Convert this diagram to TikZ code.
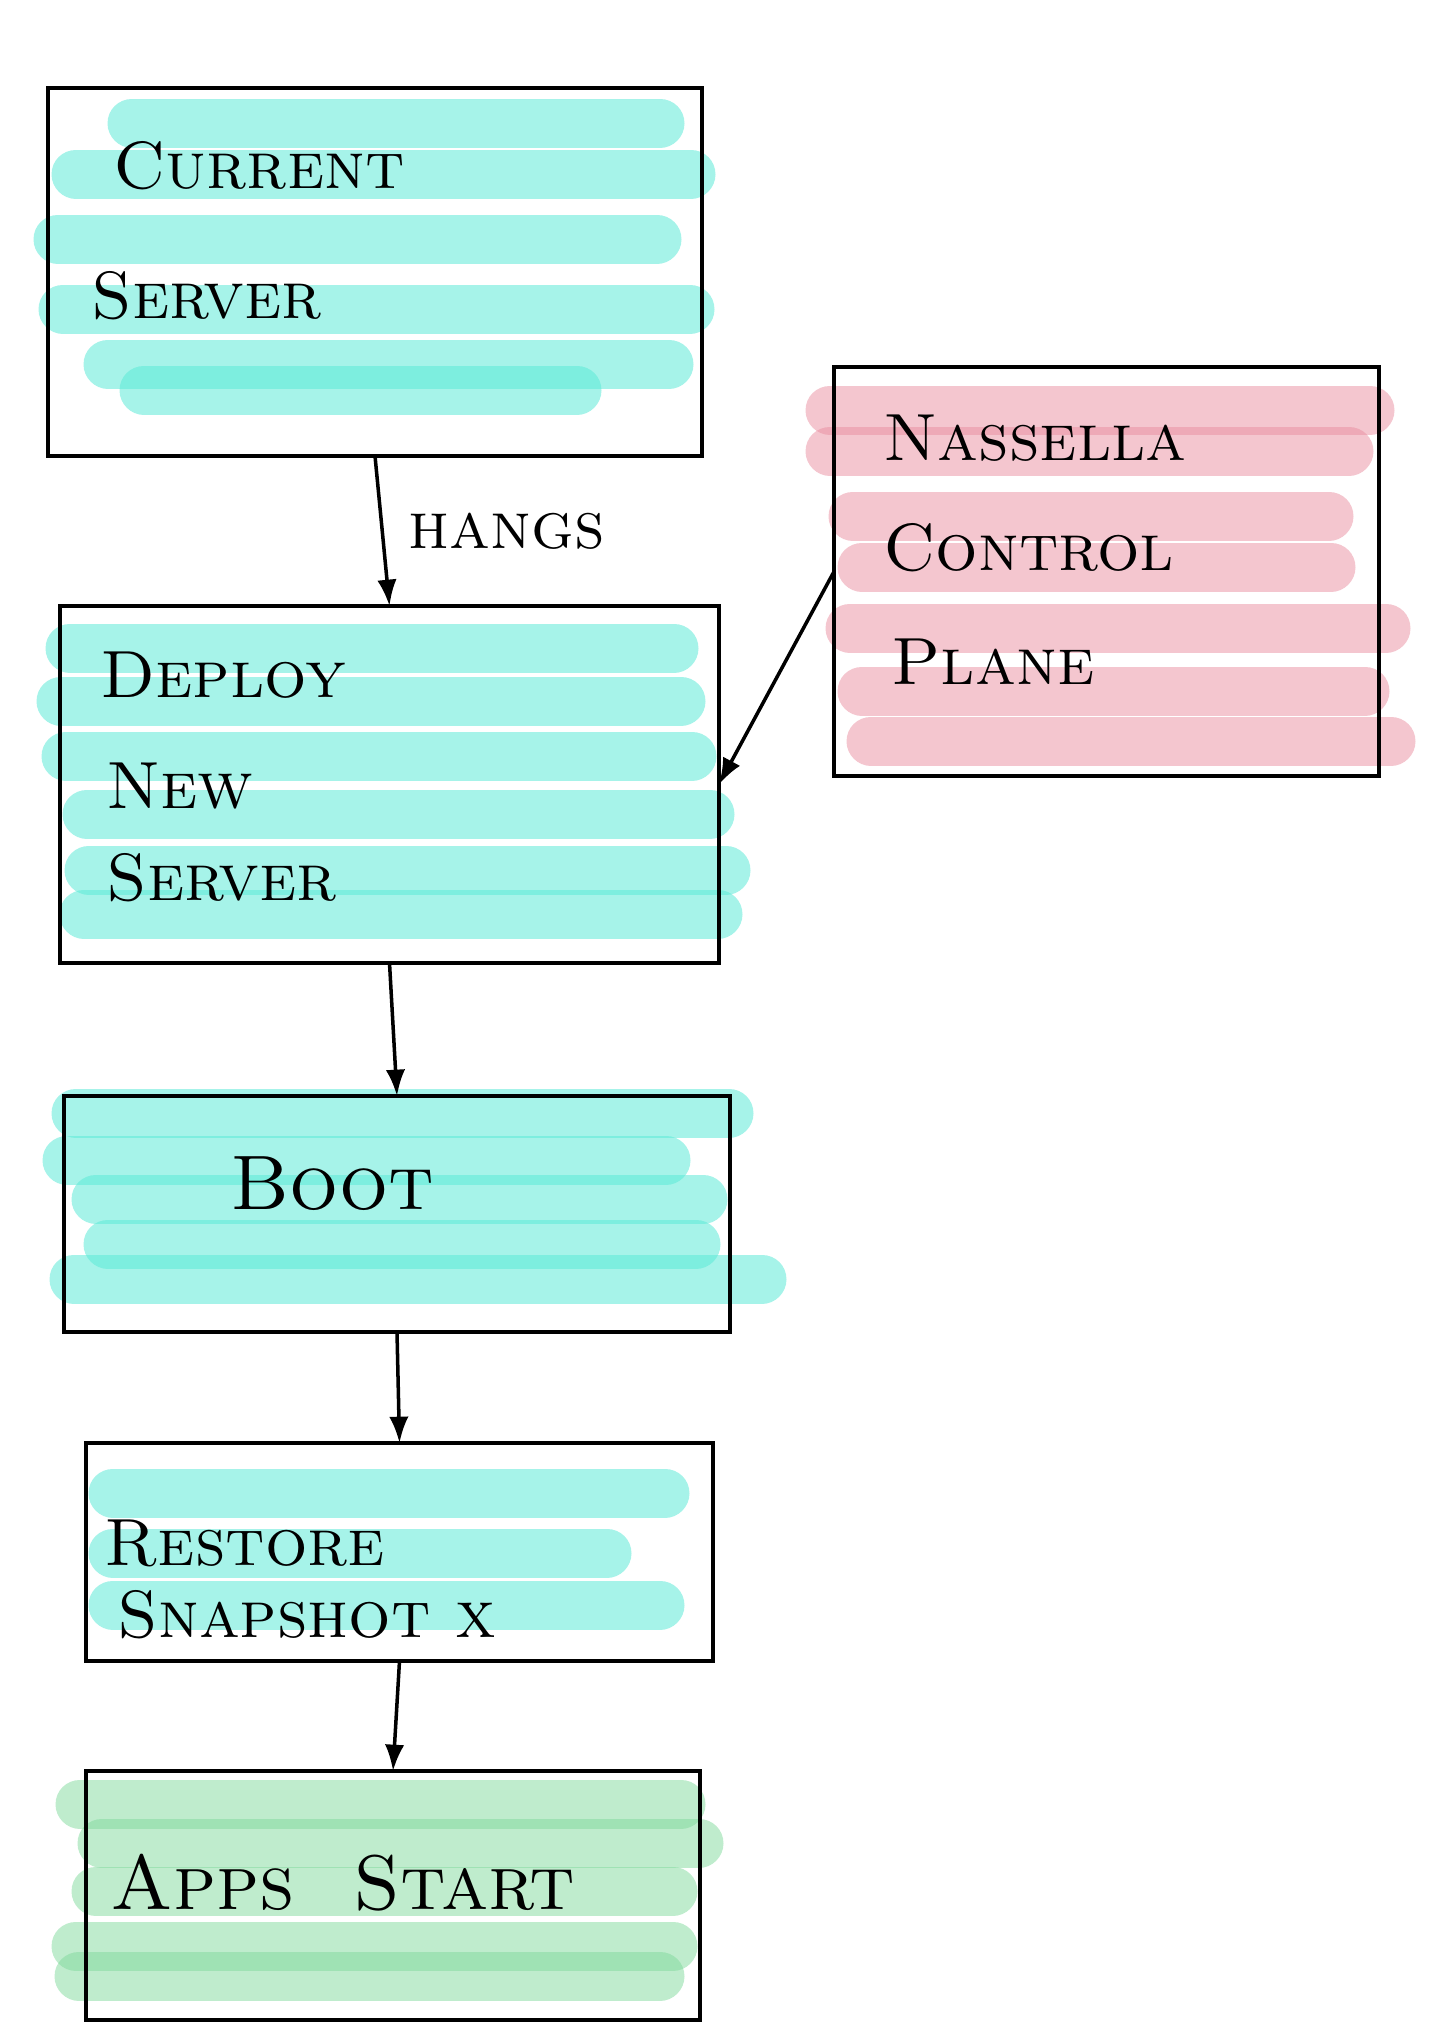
\documentclass[tikz,border=0pt]{standalone}
\usepackage{fontspec}
\usepackage{tikz}
\usetikzlibrary{arrows.meta,positioning,calc}
\usepackage{xcolor}

\definecolor{tealink}{RGB}{90,233,214}
\definecolor{pinkink}{RGB}{233,141,159}
\definecolor{greenink}{RGB}{127,217,155}

\tikzset{
    stepbox/.style={draw=black, line width=2.3pt, rectangle, inner sep=0pt, outer sep=0pt},
    hlmark/.style={line width=0.98cm, line cap=round, opacity=0.54},
    tealmark/.style={hlmark, draw=tealink},
    pinkmark/.style={hlmark, draw=pinkink, opacity=0.5},
    greenmark/.style={hlmark, draw=greenink, opacity=0.5},
    lbl/.style={anchor=west, inner sep=0pt, font=\fontsize{38}{40}\selectfont\scshape},
    biglbl/.style={lbl, font=\fontsize{44}{46}\selectfont\scshape},
    flow/.style={-{Latex[length=15pt,width=11pt]}, line width=2pt}
}

\begin{document}
\begin{tikzpicture}[x=0.02cm, y=-0.02cm]
    \useasboundingbox (0,0) rectangle (1440,2036);

    % Highlighter strokes
    \foreach \xa/\xb/\y in {132/660/123, 76/691/174, 58/657/239, 63/690/309, 108/669/364, 144/577/390,
                            70/674/648, 61/681/701, 66/692/756, 87/710/814, 89/726/870, 84/718/914,
                            76/729/1113, 67/666/1160, 96/703/1199, 108/696/1244, 74/762/1279,
                            113/665/1493, 113/607/1553, 113/660/1605} {
        \draw[tealmark] (\xa,\y) -- (\xb,\y);
    }
    \foreach \xa/\xb/\y in {830/1370/410, 830/1349/451, 853/1329/516, 862/1331/567,
                            850/1386/628, 862/1365/691, 871/1391/741} {
        \draw[pinkmark] (\xa,\y) -- (\xb,\y);
    }
    \foreach \xa/\xb/\y in {80/681/1804, 102/699/1843, 96/673/1891, 76/673/1946, 79/660/1976} {
        \draw[greenmark] (\xa,\y) -- (\xb,\y);
    }

    % Boxes
    \node[stepbox, minimum width=13.08cm, minimum height=7.36cm] (current) at (375,272) {};
    \node[stepbox, minimum width=10.9cm, minimum height=8.18cm] (ncp) at (1106.5,571.5) {};
    \node[stepbox, minimum width=13.18cm, minimum height=7.14cm] (deploy) at (389.5,784.5) {};
    \node[stepbox, minimum width=13.32cm, minimum height=4.72cm] (boot) at (397,1214) {};
    \node[stepbox, minimum width=12.54cm, minimum height=4.36cm] (restore) at (399.5,1552) {};
    \node[stepbox, minimum width=12.28cm, minimum height=4.98cm] (apps) at (393,1895.5) {};

    % Labels
    \node[lbl] (tcur) at (113,166) {Current};
    \node[lbl] (tsrv) at (91,296) {Server};
    \node[lbl] (tnas) at (883,438) {Nassella};
    \node[lbl] (tctl) at (883,548) {Control};
    \node[lbl] (tpln) at (891,662) {Plane};
    \node[lbl] (tdep) at (100,675) {Deploy};
    \node[lbl] (tnew) at (106,786) {New};
    \node[lbl] (tsrv2) at (106,878) {Server};
    \node[biglbl] (tboot) at (230,1184) {Boot};
    \node[lbl] (tres) at (104,1543) {Restore};
    \node[lbl] (tsnap) at (117,1615) {Snapshot x};
    \node[biglbl] (tapps) at (110,1883) {Apps\ \ Start};

    % Arrows
    \draw[flow] (current.south) -- node[lbl, right=14pt] (hangs) {hangs} (deploy.north);
    \draw[flow] (deploy.south) -- (boot.north);
    \draw[flow] (boot.south) -- (restore.north);
    \draw[flow] (restore.south) -- (apps.north);
    \draw[flow] (ncp.west) -- (deploy.east);
\end{tikzpicture}
\end{document}
